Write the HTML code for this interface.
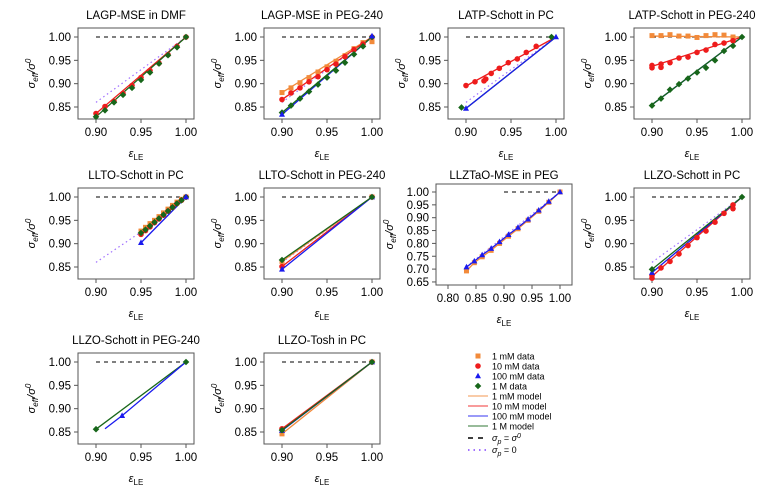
<!DOCTYPE html>
<html><head><meta charset="utf-8"><style>
body{margin:0;background:#fff;}
svg{display:block;font-family:"Liberation Sans",Arial,sans-serif;}
</style></head><body>
<svg id="chart" width="783" height="496" viewBox="0 0 783 496" xmlns="http://www.w3.org/2000/svg"></svg>
<script>
// ---- data ----
const titles = ["LAGP-MSE in DMF","LAGP-MSE in PEG-240","LATP-Schott in PC","LATP-Schott in PEG-240","LLTO-Schott in PC","LLTO-Schott in PEG-240","LLZTaO-MSE in PEG","LLZO-Schott in PC","LLZO-Schott in PEG-240","LLZO-Tosh in PC"];
const xTicksStd = [0.90,0.95,1.00];
const yTicksStd = [0.85,0.90,0.95,1.00];
const xTicksTa = [0.80,0.85,0.90,0.95,1.00];
const yTicksTa = [0.65,0.70,0.75,0.80,0.85,0.90,0.95,1.00];
const gridX = [0.90,0.91,0.92,0.93,0.94,0.95,0.96,0.97,0.98,0.99,1.00];
// panel 1
const p1_red = [0.836,0.851,0.862,0.879,0.896,0.913,0.928,0.944,0.962,0.980,1.0];
const p1_green = [0.829,0.843,0.860,0.876,0.891,0.908,0.924,0.943,0.961,0.978,1.0];
// panel 2
const p2_orange = [0.881,0.891,0.902,0.913,0.925,0.936,0.948,0.960,0.975,0.988,0.990];
const p2_red = [0.866,0.880,0.891,0.904,0.915,0.930,0.942,0.958,0.973,0.985,1.0];
const p2_green = [0.838,0.853,0.868,0.883,0.898,0.913,0.928,0.945,0.963,0.980,1.0];
const p2_blueX = [0.90,1.00]; const p2_blue = [0.834,1.002];
// panel 3
const p3_redX = [0.90,0.91,0.92,0.922,0.928,0.937,0.947,0.957,0.967,0.978];
const p3_red = [0.896,0.904,0.906,0.910,0.922,0.933,0.945,0.953,0.967,0.980];
const p3_blueX = [0.90,1.00]; const p3_blue = [0.847,1.0];
const p3_greenX = [0.895,0.995]; const p3_green = [0.849,1.0];
// panel 4
const p4_orangeX = [0.90,0.91,0.92,0.93,0.94,0.95,0.96,0.97,0.98,0.99];
const p4_orange = [1.003,1.003,1.005,1.002,1.002,0.999,1.003,1.005,1.004,1.000];
const p4_redX = [0.90,0.90,0.91,0.91,0.92,0.93,0.94,0.95,0.96,0.97,0.98,0.99];
const p4_red = [0.934,0.939,0.942,0.935,0.945,0.955,0.957,0.967,0.972,0.984,0.987,0.992];
const p4_green = [0.853,0.868,0.887,0.899,0.911,0.924,0.934,0.950,0.970,0.981,1.0];
// panel 5
const p5_x = [0.95,0.955,0.96,0.965,0.97,0.975,0.98,0.985,0.99,0.995,1.0];
const p5_orange = [0.927,0.935,0.943,0.950,0.958,0.966,0.974,0.982,0.989,0.995,1.0];
const p5_red = [0.920,0.928,0.936,0.945,0.953,0.961,0.970,0.978,0.986,0.993,1.0];
const p5_green = [0.923,0.930,0.938,0.946,0.954,0.962,0.970,0.978,0.986,0.993,1.0];
const p5_blueX = [0.95,1.0]; const p5_blue = [0.902,1.0];
// panel 6
const p6_end = [1.0];
const p6_orange = [0.862]; const p6_red = [0.851]; const p6_blue = [0.845]; const p6_green = [0.865];
// panel 7
const p7_x = [0.833,0.847,0.861,0.877,0.892,0.908,0.925,0.943,0.962,0.980,1.0];
const p7_blue = [0.708,0.731,0.755,0.780,0.806,0.834,0.862,0.894,0.929,0.963,1.0];
const p7_orange = [0.693,0.725,0.748,0.773,0.800,0.828,0.857,0.890,0.925,0.960,1.0];
// panel 8
const p8_redX = [0.90,0.90,0.91,0.92,0.93,0.94,0.95,0.96,0.97,0.98,0.99,0.99];
const p8_red = [0.826,0.832,0.848,0.862,0.878,0.896,0.913,0.927,0.946,0.965,0.975,0.983];
const p8_green = [0.845]; const p8_blue = [0.838];
// panel 9
const p9_green = [0.856]; const p9_blueX = [0.91,0.929,1.0]; const p9_blue = [0.857,0.885,1.0];
// panel 10
const p10_orange = [0.846]; const p10_red = [0.857]; const p10_blue = [0.853]; const p10_green = [0.854];

const C = {orange:"#f28a3a", red:"#ee1c1c", blue:"#1a1aee", green:"#17661a"};

const svg = document.getElementById('chart');
const NS = "http://www.w3.org/2000/svg";
function mk(tag, attrs, parent){const e=document.createElementNS(NS,tag);for(const k in attrs)e.setAttribute(k,attrs[k]);(parent||svg).appendChild(e);return e;}

const colX=[0,186,370,556], rowY=[0,160,325];
function stdScale(ox,oy){return {x:v=>ox+96+(v-0.90)*900, y:v=>oy+37+(1.0-v)*466.7, box:[ox+78,oy+28,ox+194,oy+119], xt:xTicksStd, yt:yTicksStd};}
function taScale(ox,oy){return {x:v=>ox+78+(v-0.80)*560, y:v=>oy+32+(1.0-v)*257, box:[ox+66,oy+24,ox+202,oy+125], xt:xTicksTa, yt:yTicksTa};}

function drawAxes(i,s){
  const g=mk('g',{});
  
  
  const [x0,y0,x1,y1]=s.box;
  const r=mk('rect',{x:x0,y:y0,width:x1-x0,height:y1-y0,fill:'none',stroke:'#555','stroke-width':1},g);
  
  
  const t=mk('text',{x:(x0+x1)/2,y:rowY[Math.floor(i/4)]+19,'text-anchor':'middle','font-size':11.5},g);
  t.textContent=titles[i];
  
  
  s.xt.forEach(v=>{
    mk('line',{x1:s.x(v),x2:s.x(v),y1:y1,y2:y1+4,stroke:'#555'},g);
    const l=mk('text',{x:s.x(v),y:y1+17,'text-anchor':'middle','font-size':11.5},g);
    l.textContent=v.toFixed(2);
    
    
  });
  s.yt.forEach(v=>{
    mk('line',{x1:x0-4,x2:x0,y1:s.y(v),y2:s.y(v),stroke:'#555'},g);
    const l=mk('text',{x:x0-7,y:s.y(v)+4,'text-anchor':'end','font-size':11.5},g);
    l.textContent=v.toFixed(2);
    
    
  });
  const xl=mk('text',{x:(x0+x1)/2,y:y1+38,'text-anchor':'middle','font-size':11,'font-style':'italic'},g);
  xl.innerHTML='ε<tspan font-size="8" dy="3" font-style="normal">LE</tspan>';
  
  
  const yc=(y0+y1)/2, yx=x0-43;
  const yl=mk('text',{x:yx,y:yc,'text-anchor':'middle','font-size':11,'font-style':'italic',transform:`rotate(-90 ${yx} ${yc})`},g);
  yl.innerHTML='σ<tspan font-size="8" dy="3">eff</tspan><tspan dy="-3">/σ</tspan><tspan font-size="8" dy="-4">0</tspan>';
  
  
  // reference lines
  const d=mk('line',{x1:s.x(0.90),x2:s.x(1.0),y1:s.y(1),y2:s.y(1),stroke:'#000','stroke-dasharray':'4,4'},g);
  
  
  return g;
}
function purple(g,s,xa,ya,xb,yb){
  const p=mk('line',{x1:s.x(xa),y1:s.y(ya),x2:s.x(xb),y2:s.y(yb),stroke:'#a070ff','stroke-dasharray':'1.5,3','stroke-width':1.2},g);
  
  
}
function line(g,s,col,xs,ys){
  const p=mk('polyline',{points:xs.map((x,k)=>s.x(x)+','+s.y(ys[k])).join(' '),fill:'none',stroke:C[col],'stroke-width':1.3},g);
  
  
}
function marker(g,col,cx,cy){
  let e;
  if(col==='orange') e=mk('rect',{x:cx-2.5,y:cy-2.5,width:5,height:5,fill:C.orange},g);
  else if(col==='red') e=mk('circle',{cx:cx,cy:cy,r:2.8,fill:C.red},g);
  else if(col==='blue') e=mk('polygon',{points:`${cx},${cy-3.3} ${cx+3},${cy+2.3} ${cx-3},${cy+2.3}`,fill:C.blue},g);
  else e=mk('polygon',{points:`${cx},${cy-3.3} ${cx+3.3},${cy} ${cx},${cy+3.3} ${cx-3.3},${cy}`,fill:C.green},g);
  return e;
}
function pts(g,s,col,xs,ys){
  xs.forEach((x,k)=>{
    const e=marker(g,col,s.x(x),s.y(ys[k]));
    
    
  });
}
function modelFrom(g,s,col,x0,y0){line(g,s,col,[x0,1.0],[y0,1.0]);}

let s,g;
// 1
s=stdScale(colX[0],rowY[0]); g=drawAxes(0,s);
purple(g,s,0.90,0.86,1,1);
modelFrom(g,s,'red',0.90,p1_red[0]); modelFrom(g,s,'green',0.90,p1_green[0]);
pts(g,s,'red',gridX,p1_red); pts(g,s,'green',gridX,p1_green);
// 2
s=stdScale(colX[1],rowY[0]); g=drawAxes(1,s);
purple(g,s,0.90,0.86,1,1);
modelFrom(g,s,'orange',0.90,p2_orange[0]); modelFrom(g,s,'red',0.90,p2_red[0]);
modelFrom(g,s,'blue',0.90,p2_blue[0]); modelFrom(g,s,'green',0.90,p2_green[0]);
pts(g,s,'orange',gridX,p2_orange); pts(g,s,'red',gridX,p2_red); pts(g,s,'green',gridX,p2_green); pts(g,s,'blue',p2_blueX,p2_blue);
// 3
s=stdScale(colX[2],rowY[0]); g=drawAxes(2,s);
purple(g,s,0.90,0.86,1,1);
modelFrom(g,s,'red',0.90,0.895); modelFrom(g,s,'green',0.90,p3_blue[0]); modelFrom(g,s,'blue',0.90,p3_blue[0]);
pts(g,s,'red',p3_redX,p3_red); pts(g,s,'green',p3_greenX,p3_green); pts(g,s,'blue',p3_blueX,p3_blue);
// 4
s=stdScale(colX[3],rowY[0]); g=drawAxes(3,s);
modelFrom(g,s,'orange',0.90,1.002); modelFrom(g,s,'red',0.90,0.937);
modelFrom(g,s,'blue',0.90,0.855); modelFrom(g,s,'green',0.90,0.855);
pts(g,s,'orange',p4_orangeX,p4_orange); pts(g,s,'red',p4_redX,p4_red); pts(g,s,'green',gridX,p4_green);
// 5
s=stdScale(colX[0],rowY[1]); g=drawAxes(4,s);
purple(g,s,0.90,0.86,0.95,0.925);
modelFrom(g,s,'orange',0.95,p5_orange[0]); modelFrom(g,s,'red',0.95,p5_red[0]);
modelFrom(g,s,'green',0.95,p5_green[0]); modelFrom(g,s,'blue',0.95,p5_blue[0]);
pts(g,s,'orange',p5_x,p5_orange); pts(g,s,'red',p5_x,p5_red); pts(g,s,'green',p5_x,p5_green); pts(g,s,'blue',p5_blueX,p5_blue);
// 6
s=stdScale(colX[1],rowY[1]); g=drawAxes(5,s);
purple(g,s,0.90,0.86,1,1);
[['orange',p6_orange],['red',p6_red],['blue',p6_blue],['green',p6_green]].forEach(([c,a])=>{modelFrom(g,s,c,0.90,a[0]);pts(g,s,c,[0.90,1.0],[a[0],p6_end[0]]);});
// 7
s=taScale(colX[2],rowY[1]); g=drawAxes(6,s);
purple(g,s,0.833,0.71,1,1);
line(g,s,'orange',p7_x,p7_orange); line(g,s,'blue',p7_x,p7_blue);
pts(g,s,'orange',p7_x,p7_orange); pts(g,s,'blue',p7_x,p7_blue);
// 8
s=stdScale(colX[3],rowY[1]); g=drawAxes(7,s);
purple(g,s,0.90,0.86,1,1);
modelFrom(g,s,'red',0.90,0.83); modelFrom(g,s,'blue',0.90,p8_blue[0]); modelFrom(g,s,'green',0.90,p8_green[0]);
pts(g,s,'red',p8_redX,p8_red); pts(g,s,'blue',[0.90],p8_blue); pts(g,s,'green',[0.90,1.0],[p8_green[0],1.0]);
// 9
s=stdScale(colX[0],rowY[2]); g=drawAxes(8,s);
modelFrom(g,s,'green',0.90,p9_green[0]); line(g,s,'blue',p9_blueX,p9_blue);
pts(g,s,'green',[0.90,1.0],[p9_green[0],1.0]); pts(g,s,'blue',[p9_blueX[1]],[p9_blue[1]]);
// 10
s=stdScale(colX[1],rowY[2]); g=drawAxes(9,s);
[['orange',p10_orange],['red',p10_red],['blue',p10_blue],['green',p10_green]].forEach(([c,a])=>{modelFrom(g,s,c,0.90,a[0]);pts(g,s,c,[0.90,1.0],[a[0],1.0]);});

// legend
const lg=mk('g',{});


const items=[['orange','pt','1 mM data'],['red','pt','10 mM data'],['blue','pt','100 mM data'],['green','pt','1 M data'],
 ['orange','ln','1 mM model'],['red','ln','10 mM model'],['blue','ln','100 mM model'],['green','ln','1 M model']];
items.forEach((it,k)=>{
  const y=356+k*10;
  if(it[1]==='pt'){marker(lg,it[0],478,y);}
  else{mk('line',{x1:468,x2:488,y1:y,y2:y,stroke:C[it[0]],'stroke-width':1.2,opacity:0.7},lg);}
  const t=mk('text',{x:492,y:y+3.5,'font-size':9},lg);
  t.textContent=it[2];
  
  
});
mk('line',{x1:468,x2:488,y1:438,y2:438,stroke:'#000','stroke-width':1.5,'stroke-dasharray':'5,5'},lg);
const t1=mk('text',{x:492,y:441,'font-size':9,'font-style':'italic'},lg);
t1.innerHTML='σ<tspan font-size="7" dy="3">p</tspan><tspan dy="-3" font-style="normal"> = </tspan>σ<tspan font-size="7" dy="-3">0</tspan>';


mk('line',{x1:468,x2:488,y1:450,y2:450,stroke:'#8040ff','stroke-width':1.5,'stroke-dasharray':'1.5,4'},lg);
const t2=mk('text',{x:492,y:453,'font-size':9,'font-style':'italic'},lg);
t2.innerHTML='σ<tspan font-size="7" dy="3">p</tspan><tspan dy="-3" font-style="normal"> = 0</tspan>';


</script>
</body></html>
